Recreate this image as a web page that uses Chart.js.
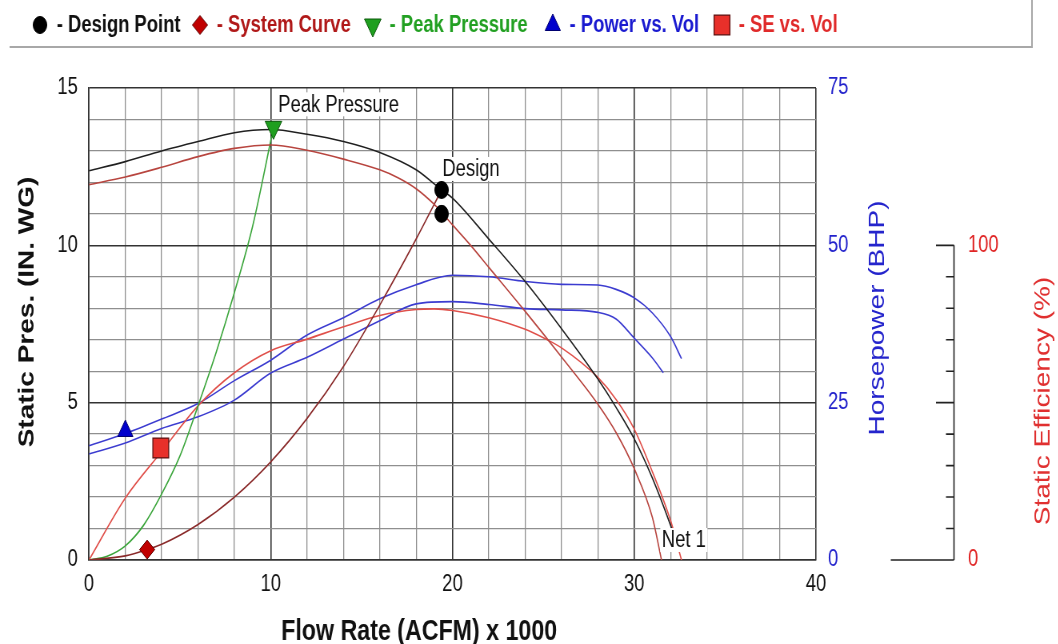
<!DOCTYPE html>
<html>
<head>
<meta charset="utf-8">
<title>Fan Performance</title>
<script src="https://cdn.jsdelivr.net/npm/chart.js"></script>
<style>
  html, body { margin: 0; padding: 0; background: #fff; overflow: hidden; }
  #wrap { width: 1058px; height: 644px; overflow: hidden; }
  /* the chart is laid out on a wider canvas and drawn condensed horizontally */
  #c { display: block; transform: scaleX(0.8); transform-origin: 0 0; }
</style>
</head>
<body>
<div id="wrap"><canvas id="c" width="1323" height="644"></canvas></div>
<script>
// ---- tick labels ----
const xTickLabels = [0, 10, 20, 30, 40];
const yTickLabels = [0, 5, 10, 15];
const hpTickLabels = [0, 25, 50, 75];
const effTickLabels = [0, 100];

// ---- fan static pressure curve (in. WG) ----
const fanFlow = [0, 2, 4, 6, 8, 10, 12, 14, 16, 18, 19.4, 20, 22, 24, 26, 28, 29, 30, 31, 32, 32.3];
const fanPres = [12.37, 12.66, 13.0, 13.3, 13.58, 13.68, 13.53, 13.3, 12.95, 12.4, 11.76, 11.5, 10.2, 8.85, 7.35, 5.75, 4.85, 3.85, 2.6, 1.1, 0.6];

// ---- second static pressure curve (in. WG) ----
const fan2Flow = [0, 2, 4, 6, 8, 10, 12, 14, 16, 17, 18, 19, 19.4, 20, 21, 22, 24, 26, 28, 29, 30, 31, 31.5];
const fan2Pres = [11.93, 12.17, 12.48, 12.82, 13.08, 13.19, 13.02, 12.74, 12.4, 12.15, 11.8, 11.3, 11.05, 10.65, 10.0, 9.3, 7.9, 6.45, 4.95, 4.05, 2.9, 1.35, 0];

// ---- system resistance curve (in. WG) ----
const sysFlow = [0, 2, 3.2, 4, 6, 8, 10, 12, 14, 16, 18, 19.4];
const sysPres = [0, 0.13, 0.33, 0.5, 1.13, 2.0, 3.12, 4.5, 6.15, 8.1, 10.2, 11.76];

// ---- peak pressure line (in. WG) ----
const peakFlow = [0, 1, 2, 3, 4, 5, 6, 7, 8, 9, 10.1];
const peakPres = [0, 0.12, 0.45, 1.1, 2.1, 3.3, 4.9, 6.6, 8.5, 10.6, 13.6];

// ---- static efficiency (%) ----
const effFlow = [0, 2, 4, 6, 8, 10, 12, 14, 16, 18, 19, 20, 22, 24, 25, 26, 28, 29, 30, 31, 32, 32.6];
const effPct = [0, 19.7, 34.5, 49, 59.5, 66.5, 70.2, 74.1, 77.7, 79.6, 79.8, 79.3, 77, 73.3, 70.6, 67.4, 58, 51, 41.6, 28, 12.5, 0];

// ---- brake horsepower (BHP) ----
const pwrFlow = [0, 2, 4, 6, 8, 10, 12, 14, 16, 18, 20, 22, 24, 26, 28, 29, 30, 31, 32, 32.6];
const pwrHp = [18.15, 20.1, 22.4, 24.85, 28.5, 31.75, 35.75, 38.5, 41.5, 43.75, 45.25, 45.0, 44.25, 43.8, 43.7, 43.0, 41.65, 39.25, 35.5, 32.0];
const pwr2Flow = [0, 2, 4, 6, 8, 10, 12, 14, 16, 18, 20, 22, 24, 26, 28, 29, 30, 31, 31.6];
const pwr2Hp = [16.85, 18.6, 20.9, 22.75, 25.4, 29.7, 32.2, 35.1, 38.0, 40.7, 41.05, 40.6, 39.95, 39.75, 39.35, 38.3, 35.25, 32.1, 29.75];

// ---- marker points ----
const designFlow = [19.4, 19.4];
const designPres = [11.76, 11.0];
const sysMarkFlow = [3.2];
const sysMarkPres = [0.33];
const peakMarkFlow = [10.15];
const peakMarkPres = [13.75];
const pwrMarkFlow = [2.0];
const pwrMarkHp = [20.5];
const seMarkFlow = [3.95];
const seMarkPct = [35.6];

const FONT = '"Liberation Sans", Arial, Helvetica, sans-serif';
Chart.defaults.font.family = FONT;
Chart.defaults.color = '#111';

const pts = (xs, ys) => xs.map((x, i) => ({ x, y: ys[i] }));

function curve(xs, ys, color, axis) {
  return {
    data: pts(xs, ys), yAxisID: axis, borderColor: color, borderWidth: 1.6,
    pointRadius: 0, pointHoverRadius: 0, fill: false,
    cubicInterpolationMode: 'monotone'
  };
}
function marker(xs, ys, axis, style, opts) {
  return Object.assign({
    data: pts(xs, ys), yAxisID: axis, showLine: false,
    pointStyle: style, pointBorderWidth: 1, pointHoverRadius: 0
  }, opts);
}

const datasets = [
  marker(designFlow, designPres, 'y', 'circle',
    { legendText: '- Design Point', legendColor: '#111', pointRadius: 8.5, pointBackgroundColor: '#000', pointBorderColor: '#000' }),
  marker(sysMarkFlow, sysMarkPres, 'y', 'rectRot',
    { legendText: '- System Curve', legendColor: '#b01818', pointRadius: 9.5, pointBackgroundColor: '#c00000', pointBorderColor: '#5a0000' }),
  marker(peakMarkFlow, peakMarkPres, 'y', 'triangle',
    { legendText: '- Peak Pressure', legendColor: '#22a022', pointRadius: 12, pointRotation: 180, pointBackgroundColor: '#1f9f1f', pointBorderColor: '#0b5a0b' }),
  marker(pwrMarkFlow, pwrMarkHp, 'hp', 'triangle',
    { legendText: '- Power vs. Vol', legendColor: '#1a1ad0', pointRadius: 11, pointBackgroundColor: '#0000cc', pointBorderColor: '#000070' }),
  marker(seMarkFlow, seMarkPct, 'eff', 'rect',
    { legendText: '- SE vs. Vol', legendColor: '#e02a2a', pointRadius: 14, pointBackgroundColor: '#e8302a', pointBorderColor: '#5a1010', pointBorderWidth: 1.3 }),
  curve(fanFlow, fanPres, '#202020', 'y'),
  curve(fan2Flow, fan2Pres, '#b8453f', 'y'),
  curve(sysFlow, sysPres, '#8a2a2a', 'y'),
  curve(peakFlow, peakPres, '#3aa53a', 'y'),
  curve(effFlow, effPct, '#e0504a', 'eff'),
  curve(pwrFlow, pwrHp, '#3c3cd0', 'hp'),
  curve(pwr2Flow, pwr2Hp, '#3c3cd0', 'hp')
];

// text callouts anchored on data points
const callouts = [
  { text: 'Peak Pressure', x: 10.15, y: 13.75, dx: 6, dy: -23 },
  { text: 'Design', x: 19.4, y: 11.76, dx: 1, dy: -21 },
  { text: 'Net 1', x: 31.52, y: 0, dx: 0, dy: -20 }
];

// legend slots along the header strip
const legendSlots = [50, 250, 466, 691, 902.5];

function drawMarker(ctx, ds, x, y) {
  ctx.fillStyle = ds.pointBackgroundColor;
  ctx.strokeStyle = ds.pointBorderColor;
  ctx.lineWidth = ds.pointBorderWidth || 1;
  Chart.helpers.drawPoint(ctx, {
    pointStyle: ds.pointStyle, rotation: ds.pointRotation || 0,
    radius: ds.pointRadius, borderWidth: ds.pointBorderWidth || 1
  }, x, y);
}

const headerLegend = {
  id: 'headerLegend',
  beforeDraw(chart) {
    const ctx = chart.ctx;
    ctx.save();
    ctx.fillStyle = '#fff';
    ctx.fillRect(0, 0, chart.width, chart.height);
    ctx.strokeStyle = '#a8a8a8';
    ctx.lineWidth = 2;
    ctx.beginPath();
    ctx.moveTo(12, 47); ctx.lineTo(1290, 47); ctx.lineTo(1290, 0);
    ctx.stroke();
    ctx.restore();
  },
  afterDraw(chart) {
    const ctx = chart.ctx;
    ctx.save();
    ctx.font = `bold 23px ${FONT}`;
    ctx.textBaseline = 'middle';
    ctx.textAlign = 'left';
    chart.data.datasets.filter(d => d.legendText).forEach((ds, i) => {
      const mx = legendSlots[i];
      drawMarker(ctx, ds, mx, 25);
      ctx.fillStyle = ds.legendColor;
      ctx.fillText(ds.legendText, mx + 21, 26);
    });
    ctx.restore();
  }
};

const decorations = {
  id: 'decorations',
  afterDatasetsDraw(chart) {
    const { ctx, scales } = chart;
    const xs = scales.x, ys = scales.y;
    ctx.save();
    ctx.font = `23px ${FONT}`;
    ctx.textBaseline = 'middle';
    ctx.textAlign = 'left';
    callouts.forEach(c => {
      const px = xs.getPixelForValue(c.x) + c.dx;
      const py = ys.getPixelForValue(c.y) + c.dy;
      const w = ctx.measureText(c.text).width;
      ctx.fillStyle = '#fff';
      ctx.fillRect(px - 2, py - 12, w + 4, 24);
      ctx.fillStyle = '#111';
      ctx.fillText(c.text, px, py + 1);
    });
    ctx.restore();
  },
  afterDraw(chart) {
    const { ctx, scales } = chart;
    const eff = scales.eff;
    ctx.save();
    // efficiency axis: spine and ticks from 0 to 100 %
    const ax = eff.left;
    ctx.strokeStyle = '#222';
    ctx.lineWidth = 1.6;
    ctx.beginPath();
    ctx.moveTo(ax, eff.getPixelForValue(100));
    ctx.lineTo(ax, eff.getPixelForValue(0));
    for (let v = 0; v <= 100; v += 10) {
      const len = v === 0 ? 79 : (v % 50 === 0 ? 22.5 : 10);
      const y = eff.getPixelForValue(v);
      ctx.moveTo(ax - len, y);
      ctx.lineTo(ax, y);
    }
    ctx.stroke();

    // axis titles
    ctx.textAlign = 'center';
    ctx.textBaseline = 'middle';
    ctx.fillStyle = '#111';
    ctx.font = `bold 29px ${FONT}`;
    ctx.fillText('Flow Rate (ACFM) x 1000', 524, 632);
    const vertical = (text, x, y, font, color) => {
      ctx.save();
      ctx.translate(x, y);
      ctx.rotate(-Math.PI / 2);
      ctx.font = font;
      ctx.fillStyle = color;
      ctx.fillText(text, 0, 0);
      ctx.restore();
    };
    vertical('Static Pres. (IN. WG)', 34, 312, `bold 28px ${FONT}`, '#111');
    vertical('Horsepower (BHP)', 1097, 318, `28px ${FONT}`, '#2424cc');
    vertical('Static Efficiency (%)', 1304, 401, `28px ${FONT}`, '#e03030');
    ctx.restore();
  }
};

const gridColor = major => c => (c.tick && c.tick.value % major === 0) ? '#333' : '#8f8f8f';
const gridWidth = major => c => (c.tick && c.tick.value % major === 0) ? 1.6 : 1.3;

new Chart(document.getElementById('c'), {
  type: 'line',
  data: { datasets },
  options: {
    responsive: false,
    animation: false,
    devicePixelRatio: 1,
    events: [],
    layout: { padding: { top: 88, left: 0, right: 0, bottom: 0 } },
    plugins: { legend: { display: false }, tooltip: { enabled: false } },
    scales: {
      x: {
        type: 'linear', position: 'bottom', min: 0, max: 40,
        afterFit: s => { s.height = 84; },
        ticks: {
          stepSize: 2, autoSkip: false, maxRotation: 0, padding: 11,
          font: { size: 23 }, color: '#111',
          callback: v => xTickLabels.includes(v) ? String(v) : ''
        },
        grid: { drawTicks: false, color: gridColor(10), lineWidth: gridWidth(10) },
        border: { color: '#333', width: 1.6 }
      },
      y: {
        type: 'linear', position: 'left', min: 0, max: 15,
        afterFit: s => { s.width = 111.25; },
        ticks: {
          stepSize: 1, autoSkip: false, padding: 14,
          font: { size: 23 }, color: '#111',
          callback: v => yTickLabels.includes(v) ? String(v) : ''
        },
        grid: { drawTicks: false, color: gridColor(5), lineWidth: gridWidth(5) },
        border: { color: '#333', width: 1.6 }
      },
      hp: {
        type: 'linear', position: 'right', min: 0, max: 75,
        afterFit: s => { s.width = 172.5; },
        ticks: {
          stepSize: 25, autoSkip: false, padding: 15,
          font: { size: 23 }, color: '#2222cc',
          callback: v => hpTickLabels.includes(v) ? String(v) : ''
        },
        grid: { display: false, drawTicks: false },
        border: { display: false }
      },
      eff: {
        type: 'linear', position: 'right', weight: 1, min: 0, max: 150,
        afterFit: s => { s.width = 130.5; },
        ticks: {
          stepSize: 10, autoSkip: false, padding: 17.5,
          font: { size: 23 }, color: '#e02424',
          callback: v => effTickLabels.includes(v) ? String(v) : ''
        },
        grid: { display: false, drawTicks: false },
        border: { display: false }
      }
    }
  },
  plugins: [headerLegend, decorations]
});
</script>
</body>
</html>
